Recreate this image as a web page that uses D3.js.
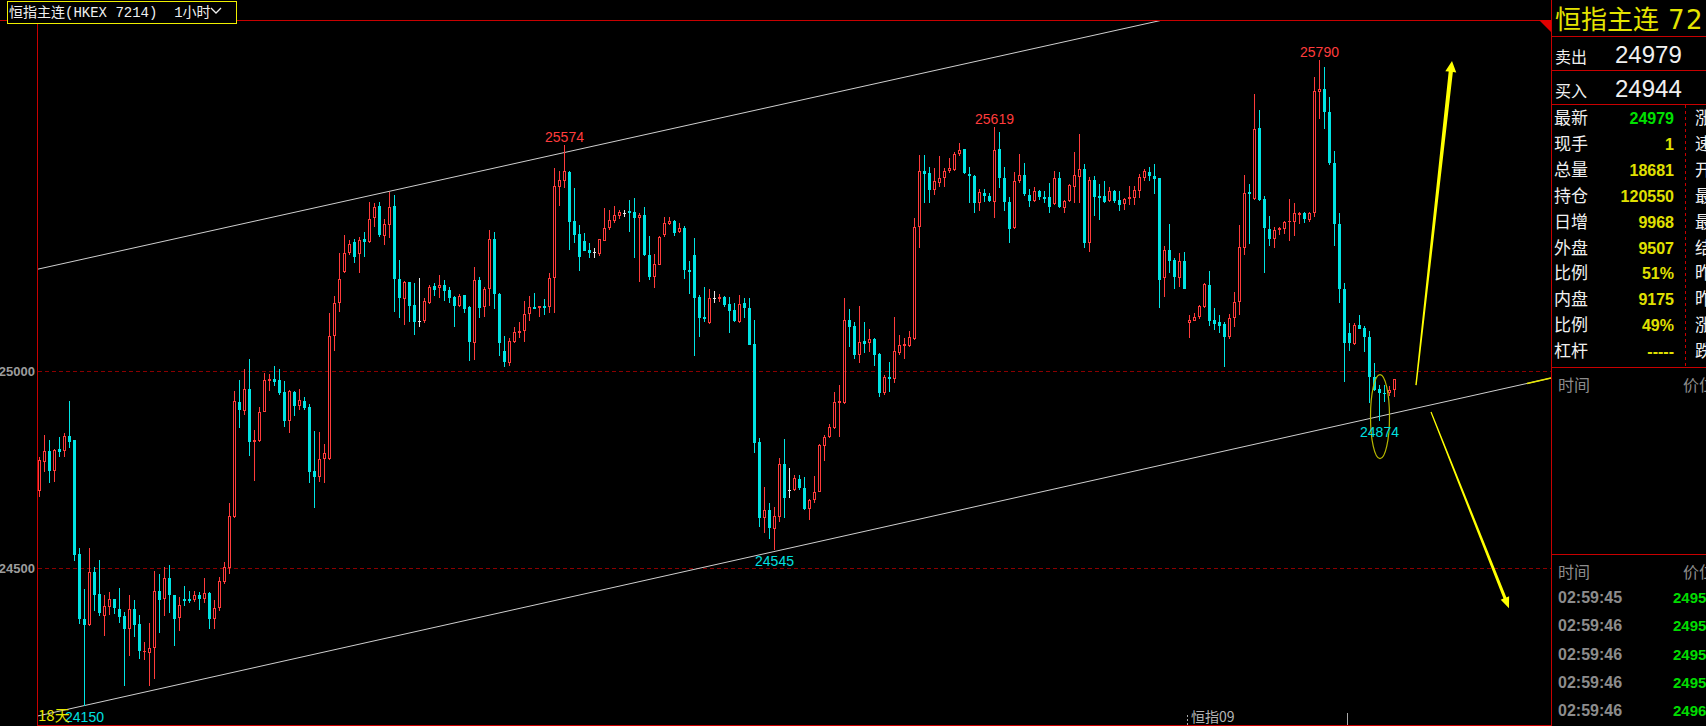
<!DOCTYPE html>
<html><head><meta charset="utf-8">
<script src="https://cdn.jsdelivr.net/npm/d3@7"></script>
<style>html,body{margin:0;padding:0;background:#000;overflow:hidden}</style>
</head><body>
<svg id="c" width="1706" height="726"></svg>
<script>
// ---------- DATA ----------
const opens=[24696,24770,24797,24747,24802,24797,24834,24825,24536,24371,
24355,24491,24434,24378,24402,24421,24396,24378,24346,24396,
24358,24286,24285,24296,24442,24421,24474,24431,24374,24421,
24421,24419,24431,24421,24437,24371,24398,24464,24499,24630,
24922,24898,24954,24821,24823,24897,24975,24980,24977,24946,
24874,24946,24912,24924,24909,24747,24732,24777,24777,25090,
25172,25252,25299,25327,25296,25334,25328,25389,25419,25343,
25371,25419,25233,25183,25226,25168,25126,25127,25173,25216,
25210,25218,25206,25189,25165,25193,25163,25072,25231,25163,
25207,25334,25195,25051,25020,25074,25096,25102,25144,25163,
25161,25165,25162,25237,25468,25483,25506,25381,25348,25329,
25307,25301,25296,25331,25362,25381,25394,25402,25406,25404,
25389,25396,25294,25239,25269,25345,25373,25381,25354,25363,
25256,25294,25189,25138,25121,25185,25183,25189,25170,25155,
25125,25173,25161,25069,24821,24626,24647,24598,24630,24764,
24698,24698,24725,24702,24649,24673,24694,24810,24832,24855,
24920,24920,25129,25114,25041,25076,25070,25080,25043,24943,
24984,24979,25046,25063,25063,25081,25365,25508,25503,25459,
25478,25491,25508,25510,25552,25563,25501,25495,25426,25453,
25444,25430,25563,25489,25430,25362,25483,25497,25447,25432,
25457,25442,25442,25424,25491,25413,25431,25468,25493,25512,
25326,25485,25445,25445,25431,25457,25434,25423,25437,25440,
25457,25491,25506,25495,25489,25235,25307,25282,25235,25279,
25123,25128,25138,25163,25218,25129,25125,25119,25087,25134,
25174,25311,25455,25436,25617,25437,25360,25334,25358,25360,
25377,25379,25396,25400,25383,25400,25709,25717,25658,25529,
25373,25208,25097,25069,25117,25108,25087,24986,24954,24945,
24943,24952];
const highs=[24782,24838,24825,24802,24833,24843,24924,24826,24550,24447,
24550,24503,24520,24431,24440,24422,24449,24389,24431,24419,
24381,24313,24361,24492,24484,24502,24508,24432,24427,24454,
24442,24442,24440,24474,24440,24419,24478,24516,24664,24949,
24977,25005,25030,24850,24909,24996,24992,25013,25005,24975,
24951,24949,24954,24935,24916,24848,24844,24815,25147,25190,
25299,25345,25332,25334,25339,25352,25430,25427,25430,25385,
25455,25447,25282,25229,25227,25223,25235,25185,25218,25223,
25243,25231,25212,25191,25195,25194,25164,25265,25239,25214,
25358,25353,25197,25089,25083,25111,25125,25178,25190,25197,
25166,25183,25250,25514,25508,25574,25507,25465,25371,25349,
25324,25311,25336,25413,25409,25419,25409,25409,25434,25438,
25402,25417,25343,25297,25343,25391,25391,25383,25375,25368,
25279,25338,25193,25214,25207,25203,25195,25190,25189,25173,
25193,25185,25185,25129,24829,24706,24664,24656,24780,24827,
24753,24736,24736,24732,24674,24734,24814,24838,24865,24947,
24964,25185,25157,25125,25165,25125,25107,25083,25046,24990,
25024,25138,25091,25083,25102,25388,25548,25548,25518,25514,
25546,25514,25541,25556,25579,25564,25518,25497,25461,25462,
25451,25619,25607,25518,25441,25504,25551,25529,25461,25468,
25459,25457,25478,25508,25506,25434,25475,25555,25602,25525,
25492,25495,25475,25482,25468,25459,25457,25438,25470,25470,
25499,25513,25517,25525,25490,25317,25373,25288,25300,25303,
25142,25148,25168,25223,25254,25161,25142,25125,25145,25200,
25371,25497,25474,25703,25662,25444,25393,25366,25366,25381,
25437,25426,25404,25404,25404,25747,25790,25772,25696,25559,
25402,25224,25123,25123,25142,25114,25102,25021,24964,24964,
24962,24980];
const lows=[24681,24744,24715,24719,24782,24782,24805,24519,24357,24150,
24353,24391,24378,24327,24381,24383,24360,24201,24277,24324,
24268,24267,24201,24218,24334,24378,24385,24303,24341,24404,
24412,24414,24393,24412,24345,24345,24392,24459,24486,24628,
24856,24888,24784,24721,24821,24895,24949,24962,24940,24858,
24843,24886,24901,24901,24715,24652,24719,24717,24775,25052,
25151,25250,25294,25275,25249,25290,25326,25366,25339,25320,
25338,25149,25134,25117,25125,25091,25112,25123,25170,25191,
25186,25178,25173,25112,25162,25146,25026,25028,25134,25138,
25165,25157,25039,25011,25013,25072,25085,25074,25128,25157,
25136,25142,25146,25146,25419,25465,25307,25324,25255,25304,
25288,25288,25292,25330,25358,25376,25385,25391,25354,25288,
25227,25292,25231,25211,25268,25341,25371,25343,25351,25233,
25195,25039,25087,25125,25120,25172,25176,25163,25097,25125,
25123,25134,25065,24791,24603,24588,24573,24545,24618,24626,
24677,24696,24698,24647,24622,24664,24692,24772,24829,24854,
24833,24916,25062,25030,25021,25046,25049,25013,24935,24939,
24947,24970,25041,25030,25060,25079,25313,25427,25426,25447,
25468,25468,25503,25508,25546,25499,25426,25402,25406,25430,
25430,25389,25465,25406,25324,25360,25478,25444,25415,25430,
25434,25426,25402,25421,25413,25402,25430,25426,25426,25313,
25303,25393,25383,25427,25430,25427,25407,25409,25421,25421,
25438,25483,25482,25449,25161,25189,25249,25208,25214,25207,
25085,25127,25131,25159,25114,25104,25097,25011,25080,25112,
25142,25294,25322,25434,25432,25249,25317,25313,25345,25347,
25331,25343,25373,25375,25377,25390,25639,25613,25523,25317,
25173,24973,25052,25066,25106,25049,24920,24950,24874,24922,
24937,24935];
const closes=[24774,24797,24747,24799,24795,24834,24821,24533,24371,24355,
24489,24431,24387,24404,24421,24398,24375,24344,24396,24355,
24290,24289,24298,24442,24419,24474,24431,24371,24406,24417,
24417,24431,24421,24436,24370,24399,24467,24502,24632,24924,
24901,24954,24821,24826,24895,24977,24980,24971,24943,24874,
24950,24912,24926,24907,24744,24732,24777,24791,25089,25172,
25233,25299,25322,25290,25332,25328,25385,25415,25345,25373,
25415,25233,25186,25226,25165,25125,25126,25178,25212,25206,
25218,25204,25186,25166,25191,25157,25074,25231,25161,25207,
25334,25195,25072,25024,25076,25100,25102,25145,25162,25158,
25165,25160,25235,25470,25485,25508,25379,25345,25290,25305,
25300,25301,25334,25362,25383,25396,25404,25402,25402,25389,
25396,25294,25239,25272,25339,25375,25381,25351,25362,25256,
25252,25186,25135,25132,25185,25185,25189,25168,25153,25128,
25170,25159,25066,24818,24626,24647,24601,24632,24764,24677,
24698,24729,24702,24649,24673,24694,24812,24833,24859,24922,
24924,25129,25112,25041,25074,25068,25081,25041,24945,24986,
24980,25051,25066,25069,25086,25365,25508,25500,25459,25482,
25491,25508,25514,25552,25561,25503,25495,25426,25455,25445,
25431,25561,25489,25430,25360,25483,25497,25449,25432,25457,
25441,25437,25417,25491,25417,25431,25472,25497,25512,25326,
25485,25442,25440,25430,25457,25431,25421,25437,25442,25459,
25493,25508,25496,25487,25231,25307,25280,25239,25279,25208,
25129,25136,25165,25220,25128,25119,25114,25087,25134,25174,
25314,25453,25449,25614,25434,25364,25335,25358,25362,25377,
25381,25400,25400,25386,25400,25711,25717,25658,25529,25372,
25208,25072,25072,25117,25107,25086,24986,24952,24943,24941,
24952,24979];

const yTicks=[24500,25000];
const highMarks=[{i:105,v:25574},{i:191,v:25619},{i:256,v:25790}];
const lowMarks=[{i:9,v:24150},{i:147,v:24545},{i:268,v:24874}];
const upperChannel=[{i:-0.4,v:25258},{i:224.8,v:25891}];
const lowerChannel=[{i:-0.4,v:24124},{i:302.4,v:24982}];
const arrowUp=[{i:275.4,v:24964},{i:282.6,v:25787}];
const arrowDown=[{i:278.4,v:24896},{i:294.0,v:24398}];
const ringCenter={i:268.2,v:24884};

const titleName='恒指主连', titleCode='7214';
const quoteLabels=['最新','现手','总量','持仓','日增','外盘','比例','内盘','比例','杠杆'];
const quoteValues=['24979','1','18681','120550','9968','9507','51%','9175','49%','-----'];
const rightLabels=['涨','速','开','最','最','结','昨','昨','涨','跌'];
const sellPrice='24979', buyPrice='24944';
const tickTimes=['02:59:45','02:59:46','02:59:46','02:59:46','02:59:46'];
const tickPrices=['24958','24957','24959','24956','24960'];

// ---------- DRAW ----------
const UP='#ff3b3b', DOWN='#00e4e4', DOJI='#e6e6e6', BORDER='#c80000', GRID='#8a0000';
const CJK='"Noto Sans CJK SC","Noto Sans",sans-serif';
const NUM='"Liberation Sans",Arial,sans-serif';
const svg=d3.select('#c');
svg.append('rect').attr('width',1706).attr('height',726).attr('fill','#000');
const P={l:37,r:1551,t:20,b:725};
const x=d3.scaleLinear().domain([0,271]).range([39,1394]);
const y=d3.scaleLinear().domain([24500,25000]).range([568,371]);

svg.append('defs').append('clipPath').attr('id','pc')
  .append('rect').attr('x',P.l+1).attr('y',P.t+1).attr('width',P.r-P.l-1).attr('height',P.b-P.t-1);

// grid dashed lines
svg.append('g').selectAll('line').data(yTicks).join('line')
  .attr('x1',P.l+1).attr('x2',P.r).attr('y1',d=>Math.round(y(d))+0.5).attr('y2',d=>Math.round(y(d))+0.5)
  .attr('stroke',GRID).attr('stroke-dasharray','4,3');

// y axis labels
const ax=svg.append('g').attr('transform','translate(35,0)')
  .call(d3.axisLeft(y).tickValues(yTicks).tickSize(0).tickPadding(0).tickFormat(d3.format('d')));
ax.select('.domain').remove();
ax.selectAll('text').attr('fill','#9c9c9c').style('font','bold 13px '+NUM);

const g=svg.append('g').attr('clip-path','url(#pc)');

// channel lines
const line=d3.line().x(d=>x(d.i)).y(d=>y(d.v));
[upperChannel,lowerChannel].forEach(c=>g.append('path').attr('d',line(c)).attr('fill','none').attr('stroke','#cfcfcf').attr('stroke-width',1));

// candles
const candles=opens.map((o,i)=>({i,o,h:highs[i],l:lows[i],c:closes[i]}));
candles.forEach(d=>{
  const cx=Math.round(x(d.i)), wx=cx+0.5;
  const top=Math.round(y(Math.max(d.o,d.c))), bot=Math.round(y(Math.min(d.o,d.c)));
  const hy=Math.round(y(d.h)), ly=Math.round(y(d.l));
  const wick=(a,b,col)=>{ if(b>a) g.append('line').attr('x1',wx).attr('x2',wx).attr('y1',a).attr('y2',b).attr('stroke',col).attr('stroke-width',1); };
  if(d.c>d.o){
    if(bot-top<=2){
      wick(hy,ly,UP);
      g.append('rect').attr('x',cx-1).attr('y',top).attr('width',3).attr('height',Math.max(bot-top,1)).attr('fill',UP);
    } else {
      wick(hy,top,UP); wick(bot,ly,UP);
      g.append('rect').attr('x',cx-0.5).attr('y',top+0.5).attr('width',2).attr('height',bot-top-1)
        .attr('fill','none').attr('stroke',UP).attr('stroke-width',1);
    }
  } else if(d.c<d.o){
    wick(hy,ly,DOWN);
    g.append('rect').attr('x',cx-1).attr('y',top).attr('width',3).attr('height',Math.max(bot-top,1)).attr('fill',DOWN);
  } else {
    wick(hy,ly,DOJI);
    g.append('rect').attr('x',cx-1).attr('y',top).attr('width',3).attr('height',1).attr('fill',DOJI);
  }
});

// extreme labels
svg.append('g').selectAll('text').data(highMarks).join('text')
  .attr('x',d=>x(d.i)+0.5).attr('y',d=>y(d.v)-3).attr('text-anchor','middle')
  .attr('fill','#ff3c3c').style('font','14px '+NUM).text(d=>d.v);
svg.append('g').selectAll('text').data(lowMarks).join('text')
  .attr('x',d=>x(d.i)+0.5).attr('y',d=>y(d.v)+16).attr('text-anchor','middle')
  .attr('fill','#00e0e0').style('font','14px '+NUM).text(d=>d.v);
svg.append('text').attr('x',38).attr('y',721).attr('fill','#e6e600').style('font','15px '+CJK).text('18天');

// yellow annotations
const yellowSeg=[{i:297.6,v:lowerChannel[0].v+(lowerChannel[1].v-lowerChannel[0].v)*(298.0/302.8)},lowerChannel[1]];
g.append('path').attr('d',line(yellowSeg)).attr('stroke','#e8e800').attr('stroke-width',1.5).attr('fill','none');
g.append('ellipse').attr('cx',x(ringCenter.i)).attr('cy',y(ringCenter.v)).attr('rx',9.5).attr('ry',42)
  .attr('fill','none').attr('stroke','#b8b800').attr('stroke-width',1.2);
function arrow(pts,w0,w1,hw,hl){
  const x0=x(pts[0].i),y0=y(pts[0].v),x1=x(pts[1].i),y1=y(pts[1].v);
  const dx=x1-x0,dy=y1-y0,L=Math.hypot(dx,dy),ux=dx/L,uy=dy/L,nx=-uy,ny=ux;
  const bx=x1-ux*hl,by=y1-uy*hl;
  const p=[[x0+nx*w0/2,y0+ny*w0/2],[bx+nx*w1/2,by+ny*w1/2],[bx+nx*hw/2,by+ny*hw/2],[x1,y1],
           [bx-nx*hw/2,by-ny*hw/2],[bx-nx*w1/2,by-ny*w1/2],[x0-nx*w0/2,y0-ny*w0/2]];
  svg.append('polygon').attr('points',p.map(q=>q.join(',')).join(' ')).attr('fill','#ffff00');
}
arrow(arrowUp,1.4,4.2,11,11);
arrow(arrowDown,1.2,3.2,9,11);

// frame
svg.append('line').attr('x1',0).attr('x2',P.r).attr('y1',P.t+0.5).attr('y2',P.t+0.5).attr('stroke',BORDER);
svg.append('line').attr('x1',P.l+0.5).attr('x2',P.l+0.5).attr('y1',P.t).attr('y2',726).attr('stroke',BORDER);
svg.append('line').attr('x1',P.l).attr('x2',P.r).attr('y1',P.b+0.5).attr('y2',P.b+0.5).attr('stroke',BORDER);
svg.append('line').attr('x1',P.r+0.5).attr('x2',P.r+0.5).attr('y1',0).attr('y2',726).attr('stroke',BORDER);
svg.append('polygon').attr('points','1539,20 1551,20 1551,32').attr('fill','#e00000');

// bottom markers
svg.append('line').attr('x1',1187.5).attr('x2',1187.5).attr('y1',715).attr('y2',725).attr('stroke','#aaa').attr('stroke-dasharray','2,2');
svg.append('line').attr('x1',1347.5).attr('x2',1347.5).attr('y1',713).attr('y2',725).attr('stroke','#aaa');
svg.append('text').attr('x',1191).attr('y',722).attr('fill','#b4b4b4').style('font','14px '+CJK).text('恒指09');

// header box
svg.append('rect').attr('x',7.5).attr('y',1.5).attr('width',229).attr('height',22).attr('fill','#000').attr('stroke','#f0f000');
svg.append('text').attr('x',9).attr('y',17).attr('fill','#f0f0f0').style('font','14px "Liberation Mono","Noto Sans CJK SC",monospace').attr('xml:space','preserve').text('恒指主连(HKEX 7214)  1小时');
svg.append('path').attr('d','M211,8 L216,13 L221,8').attr('fill','none').attr('stroke','#f0f0f0').attr('stroke-width',1.3);

// ---------- right panel ----------
const R=1551;
const tt=svg.append('text').attr('x',1555).attr('y',29).attr('fill','#e4e400');
tt.append('tspan').style('font','26px '+CJK).text(titleName);
tt.append('tspan').attr('x',1668).style('font','26px "DejaVu Sans",sans-serif').style('letter-spacing','1.5px').text(titleCode);
[36,70,104,367,554].forEach(v=>svg.append('line').attr('x1',R).attr('x2',1706).attr('y1',v+0.5).attr('y2',v+0.5).attr('stroke',BORDER));
svg.append('text').attr('x',1555).attr('y',63).attr('fill','#f0f0f0').style('font','16px '+CJK).text('卖出');
svg.append('text').attr('x',1615).attr('y',63).attr('fill','#f0f0f0').style('font','24px '+NUM).text(sellPrice);
svg.append('text').attr('x',1555).attr('y',97).attr('fill','#f0f0f0').style('font','16px '+CJK).text('买入');
svg.append('text').attr('x',1615).attr('y',97).attr('fill','#f0f0f0').style('font','24px '+NUM).text(buyPrice);
svg.append('line').attr('x1',1685.5).attr('x2',1685.5).attr('y1',105).attr('y2',367).attr('stroke',BORDER).attr('stroke-dasharray','3,3');
quoteLabels.forEach((t,k)=>{
  const yy=124+k*25.9;
  svg.append('text').attr('x',1554).attr('y',yy).attr('fill','#f0f0f0').style('font','17px '+CJK).text(t);
  svg.append('text').attr('x',1674).attr('y',yy).attr('text-anchor','end').attr('fill',k===0?'#00e000':'#e0e000')
    .style('font','bold 16px '+NUM).text(quoteValues[k]);
  svg.append('text').attr('x',1695).attr('y',yy).attr('fill','#f0f0f0').style('font','17px '+CJK).text(rightLabels[k]);
});
svg.append('text').attr('x',1558).attr('y',391).attr('fill','#8c8c8c').style('font','16px '+CJK).text('时间');
svg.append('text').attr('x',1683).attr('y',391).attr('fill','#8c8c8c').style('font','16px '+CJK).text('价位');
svg.append('text').attr('x',1558).attr('y',578).attr('fill','#8c8c8c').style('font','16px '+CJK).text('时间');
svg.append('text').attr('x',1683).attr('y',578).attr('fill','#8c8c8c').style('font','16px '+CJK).text('价位');
tickTimes.forEach((t,k)=>{
  const yy=603+k*28.3;
  svg.append('text').attr('x',1558).attr('y',yy).attr('fill','#8c8c8c').style('font','bold 16px '+NUM).text(t);
  svg.append('text').attr('x',1673).attr('y',yy).attr('fill','#00dc00').style('font','bold 15px '+NUM).text(tickPrices[k]);
});
</script>
</body></html>
